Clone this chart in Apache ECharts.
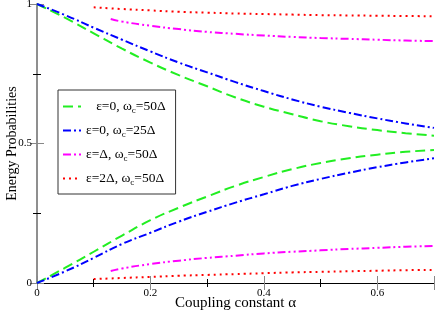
<!DOCTYPE html>
<html>
<head>
<meta charset="utf-8">
<script src="https://cdn.jsdelivr.net/npm/echarts@6/dist/echarts.min.js"></script>
<style>html,body{margin:0;padding:0;background:#fff}#c{width:436px;height:314px}</style>
</head>
<body>
<div id="c"></div>
<script>
// Data
const xFull = [0, 0.05, 0.1, 0.15, 0.2, 0.25, 0.3, 0.35, 0.4, 0.45, 0.5, 0.55, 0.6, 0.65, 0.7];
const greenUpper = [1, 0.95, 0.895, 0.84, 0.79, 0.745, 0.705, 0.665, 0.632, 0.605, 0.58, 0.562, 0.548, 0.537, 0.528];
const greenLower = [0, 0.055, 0.112, 0.17, 0.225, 0.27, 0.31, 0.348, 0.38, 0.408, 0.43, 0.447, 0.46, 0.47, 0.477];
const blueUpper = [1, 0.96, 0.915, 0.872, 0.83, 0.79, 0.755, 0.72, 0.688, 0.658, 0.632, 0.61, 0.59, 0.572, 0.556];
const blueLower = [0, 0.042, 0.09, 0.14, 0.18, 0.22, 0.255, 0.288, 0.318, 0.348, 0.373, 0.395, 0.415, 0.432, 0.447];
const xMag = [0.13, 0.15, 0.2, 0.25, 0.3, 0.35, 0.4, 0.45, 0.5, 0.55, 0.6, 0.65, 0.7];
const magUpper = [0.946, 0.937, 0.922, 0.91, 0.9, 0.893, 0.887, 0.882, 0.878, 0.875, 0.872, 0.869, 0.867];
const magLower = [0.043, 0.052, 0.068, 0.08, 0.09, 0.098, 0.106, 0.112, 0.117, 0.122, 0.126, 0.13, 0.133];
const xRed = [0.1, 0.15, 0.2, 0.25, 0.3, 0.35, 0.4, 0.45, 0.5, 0.55, 0.6, 0.65, 0.7];
const redUpper = [0.988, 0.982, 0.977, 0.972, 0.969, 0.966, 0.964, 0.962, 0.96, 0.959, 0.958, 0.957, 0.956];
const redLower = [0.014, 0.018, 0.022, 0.026, 0.029, 0.032, 0.035, 0.038, 0.04, 0.042, 0.044, 0.046, 0.047];
const seriesNames = ['g', 'b', 'm', 'r'];
const legendLabels = {
  g: '{n|   ε=0, ω}{s|c}{n|=50Δ}',
  b: '{n|ε=0, ω}{s|c}{n|=25Δ}',
  m: '{n|ε=Δ, ω}{s|c}{n|=50Δ}',
  r: '{n|ε=2Δ, ω}{s|c}{n|=50Δ}'
};

const zip = (xs, ys) => xs.map((x, i) => [x, ys[i]]);
const font = 'Liberation Serif, Times New Roman, serif';

function line(name, xs, ys, color, dash) {
  return {
    name: name, type: 'line', data: zip(xs, ys), smooth: true,
    symbol: 'none', showSymbol: false,
    lineStyle: { color: color, width: 2, type: dash },
    itemStyle: { color: color }
  };
}
const gDash = [10, 5], bDash = [8, 3, 2, 3], mDash = [8, 3, 2, 3, 2, 3], rDash = [2, 4];

const chart = echarts.init(document.getElementById('c'), null, { renderer: 'canvas' });
const baseX = {
  type: 'value', min: 0, max: 0.7, interval: 0.2,
  axisLine: { show: true, lineStyle: { color: '#000', width: 1 } },
  axisTick: { show: true, inside: true, length: 7, lineStyle: { color: '#888', width: 1 } },
  minorTick: { show: true, splitNumber: 2, length: 4, lineStyle: { color: '#000' } },
  splitLine: { show: false }, minorSplitLine: { show: false }
};
const baseY = {
  type: 'value', min: 0, max: 1, interval: 0.5,
  axisLine: { show: true, lineStyle: { color: '#888', width: 1.5 } },
  axisTick: { show: true, inside: true, length: 7, lineStyle: { color: '#888', width: 1 } },
  minorTick: { show: true, splitNumber: 2, length: 4, lineStyle: { color: '#000' } },
  splitLine: { show: false }, minorSplitLine: { show: false }
};
chart.setOption({
  animation: false,
  grid: { left: 37, right: 2, top: 4, bottom: 31, containLabel: false, outerBoundsMode: 'none' },
  xAxis: [
    Object.assign({}, baseX, {
      position: 'bottom',
      name: 'Coupling constant α', nameLocation: 'middle', nameGap: 13, nameMoveOverlap: false,
      nameTextStyle: { fontFamily: font, fontSize: 15, color: '#000', verticalAlign: 'top' },
      axisLabel: { showMaxLabel: false, fontFamily: font, fontSize: 11, color: '#000', margin: 5,
        formatter: v => (v === 0 ? '0' : String(Math.round(v * 10) / 10)) }
    }),
    Object.assign({}, baseX, { position: 'top', axisLabel: { show: false } })
  ],
  yAxis: [
    Object.assign({}, baseY, {
      position: 'left',
      name: 'Energy Probabilities', nameLocation: 'middle', nameGap: 25, nameMoveOverlap: false,
      nameTextStyle: { fontFamily: font, fontSize: 14, color: '#000', verticalAlign: 'middle' },
      axisLabel: { fontFamily: font, fontSize: 11, color: '#000', margin: 5,
        formatter: v => String(v) }
    }),
    Object.assign({}, baseY, { position: 'right', axisLabel: { show: false } })
  ],
  legend: {
    data: seriesNames,
    orient: 'vertical', left: 58, top: 90,
    backgroundColor: '#fff', borderColor: '#333', borderWidth: 1,
    padding: [8, 10, 7, 4], itemGap: 7, itemWidth: 18, itemHeight: 16,
    itemStyle: { color: 'rgba(0,0,0,0)', borderWidth: 0, borderColor: 'rgba(0,0,0,0)' },
    formatter: n => legendLabels[n],
    textStyle: {
      fontFamily: font, fontSize: 13.5, color: '#000',
      rich: {
        n: { fontFamily: font, fontSize: 13.5, color: '#000', lineHeight: 16 },
        s: { fontFamily: font, fontSize: 9, color: '#000', lineHeight: 16, padding: [8, 0, 0, 0] }
      }
    }
  },
  series: [
    line('g', xFull, greenUpper, '#22ee22', gDash),
    line('g', xFull, greenLower, '#22ee22', gDash),
    line('b', xFull, blueUpper, '#0000ff', bDash),
    line('b', xFull, blueLower, '#0000ff', bDash),
    line('m', xMag, magUpper, '#ff00ff', mDash),
    line('m', xMag, magLower, '#ff00ff', mDash),
    line('r', xRed, redUpper, '#ff0000', rDash),
    line('r', xRed, redLower, '#ff0000', rDash)
  ]
});
</script>
</body>
</html>
